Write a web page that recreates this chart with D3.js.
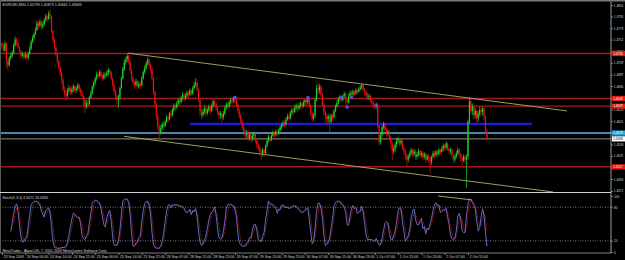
<!DOCTYPE html>
<html>
<head>
<meta charset="utf-8">
<script src="https://cdn.jsdelivr.net/npm/d3@7"></script>
<style>
body { margin: 0; background: #000; }
svg { display: block; }
text { font-family: "Liberation Sans", Arial, sans-serif; font-size: 3.6px; fill: #d8d8d8; }
text.price { font-size: 3.1px; }
</style>
</head>
<body>
<svg></svg>
<script>
// EURUSD M30 bars, 23 Sep 2009 22:00 .. 2 Oct 2009 (open = previous close)
var firstOpen = 1.4745;
var closes = [
  1.4740, 1.4732, 1.4745, 1.4712, 1.4705, 1.4718, 1.4722, 1.4728, 1.4742, 1.4752, 1.4746, 1.4738, 1.4730, 1.4722, 1.4726, 1.4720,
  1.4724, 1.4718, 1.4726, 1.4735, 1.4748, 1.4755, 1.4762, 1.4770, 1.4782, 1.4778, 1.4785, 1.4776, 1.4780, 1.4788, 1.4795, 1.4790,
  1.4800, 1.4795, 1.4768, 1.4752, 1.4738, 1.4725, 1.4712, 1.4700, 1.4690, 1.4676, 1.4660, 1.4652, 1.4648, 1.4658, 1.4662, 1.4655,
  1.4660, 1.4666, 1.4658, 1.4662, 1.4668, 1.4660, 1.4655, 1.4648, 1.4640, 1.4628, 1.4635, 1.4632, 1.4645, 1.4652, 1.4665, 1.4672,
  1.4680, 1.4688, 1.4685, 1.4692, 1.4684, 1.4680, 1.4688, 1.4685, 1.4690, 1.4696, 1.4692, 1.4680, 1.4668, 1.4655, 1.4648, 1.4640,
  1.4645, 1.4662, 1.4680, 1.4698, 1.4710, 1.4716, 1.4722, 1.4712, 1.4695, 1.4680, 1.4672, 1.4668, 1.4675, 1.4665, 1.4670, 1.4668,
  1.4680, 1.4692, 1.4700, 1.4708, 1.4715, 1.4705, 1.4698, 1.4680, 1.4655, 1.4632, 1.4610, 1.4592, 1.4580, 1.4588, 1.4596, 1.4592,
  1.4600, 1.4608, 1.4604, 1.4615, 1.4612, 1.4622, 1.4630, 1.4626, 1.4634, 1.4640, 1.4636, 1.4645, 1.4650, 1.4644, 1.4648, 1.4654,
  1.4650, 1.4658, 1.4652, 1.4662, 1.4668, 1.4672, 1.4660, 1.4640, 1.4620, 1.4612, 1.4618, 1.4625, 1.4616, 1.4622, 1.4628, 1.4620,
  1.4630, 1.4638, 1.4634, 1.4625, 1.4618, 1.4612, 1.4615, 1.4608, 1.4615, 1.4625, 1.4632, 1.4628, 1.4636, 1.4640, 1.4638, 1.4644,
  1.4640, 1.4632, 1.4620, 1.4612, 1.4600, 1.4590, 1.4582, 1.4575, 1.4580, 1.4570, 1.4576, 1.4568, 1.4574, 1.4578, 1.4565, 1.4558,
  1.4552, 1.4545, 1.4540, 1.4548, 1.4542, 1.4555, 1.4565, 1.4572, 1.4566, 1.4574, 1.4580, 1.4575, 1.4582, 1.4578, 1.4585, 1.4590,
  1.4594, 1.4598, 1.4595, 1.4604, 1.4610, 1.4606, 1.4616, 1.4622, 1.4618, 1.4626, 1.4630, 1.4624, 1.4630, 1.4634, 1.4628, 1.4636,
  1.4640, 1.4636, 1.4642, 1.4630, 1.4615, 1.4606, 1.4612, 1.4640, 1.4662, 1.4658, 1.4665, 1.4650, 1.4632, 1.4618, 1.4610, 1.4605,
  1.4610, 1.4600, 1.4612, 1.4608, 1.4620, 1.4628, 1.4635, 1.4642, 1.4646, 1.4640, 1.4648, 1.4652, 1.4640, 1.4636, 1.4648, 1.4654,
  1.4650, 1.4656, 1.4652, 1.4658, 1.4655, 1.4660, 1.4664, 1.4668, 1.4660, 1.4655, 1.4650, 1.4646, 1.4648, 1.4640, 1.4636, 1.4630,
  1.4628, 1.4632, 1.4592, 1.4562, 1.4575, 1.4590, 1.4596, 1.4585, 1.4578, 1.4582, 1.4570, 1.4560, 1.4545, 1.4550, 1.4558, 1.4565,
  1.4568, 1.4560, 1.4565, 1.4552, 1.4545, 1.4538, 1.4530, 1.4535, 1.4542, 1.4548, 1.4540, 1.4545, 1.4535, 1.4540, 1.4546, 1.4538,
  1.4542, 1.4535, 1.4540, 1.4530, 1.4536, 1.4532, 1.4525, 1.4535, 1.4542, 1.4538, 1.4545, 1.4540, 1.4548, 1.4544, 1.4550, 1.4556,
  1.4552, 1.4560, 1.4550, 1.4545, 1.4548, 1.4538, 1.4530, 1.4536, 1.4542, 1.4548, 1.4540, 1.4534, 1.4528, 1.4535, 1.4530, 1.4536,
  1.4600, 1.4638, 1.4620, 1.4628, 1.4612, 1.4620, 1.4606, 1.4615, 1.4622, 1.4618, 1.4625, 1.4610, 1.4580, 1.45683
];
var highs = [
  1.4748, 1.4744, 1.4750, 1.4746, 1.4715, 1.4722, 1.4728, 1.4732, 1.4745, 1.4758, 1.4755, 1.4748, 1.4740, 1.4732, 1.4730, 1.4728,
  1.4730, 1.4727, 1.4730, 1.4740, 1.4752, 1.4760, 1.4766, 1.4775, 1.4788, 1.4786, 1.4790, 1.4788, 1.4785, 1.4792, 1.4800, 1.4798,
  1.4805, 1.4808, 1.4797, 1.4770, 1.4755, 1.4740, 1.4728, 1.4715, 1.4703, 1.4692, 1.4680, 1.4665, 1.4658, 1.4663, 1.4668, 1.4665,
  1.4665, 1.4670, 1.4668, 1.4666, 1.4672, 1.4670, 1.4662, 1.4658, 1.4650, 1.4642, 1.4640, 1.4640, 1.4648, 1.4658, 1.4668, 1.4676,
  1.4684, 1.4693, 1.4692, 1.4696, 1.4695, 1.4688, 1.4692, 1.4693, 1.4695, 1.4700, 1.4698, 1.4694, 1.4682, 1.4670, 1.4660, 1.4650,
  1.4650, 1.4665, 1.4684, 1.4702, 1.4715, 1.4720, 1.4727, 1.4724, 1.4714, 1.4698, 1.4684, 1.4676, 1.4680, 1.4678, 1.4675, 1.4674,
  1.4685, 1.4696, 1.4705, 1.4712, 1.4720, 1.4716, 1.4708, 1.4700, 1.4682, 1.4658, 1.4636, 1.4615, 1.4596, 1.4594, 1.4600, 1.4600,
  1.4604, 1.4612, 1.4612, 1.4618, 1.4620, 1.4625, 1.4634, 1.4634, 1.4638, 1.4644, 1.4645, 1.4648, 1.4655, 1.4654, 1.4652, 1.4658,
  1.4656, 1.4662, 1.4660, 1.4666, 1.4674, 1.4681, 1.4676, 1.4662, 1.4642, 1.4624, 1.4624, 1.4630, 1.4628, 1.4626, 1.4632, 1.4630,
  1.4634, 1.4642, 1.4640, 1.4636, 1.4628, 1.4620, 1.4620, 1.4616, 1.4620, 1.4630, 1.4636, 1.4635, 1.4640, 1.4644, 1.4645, 1.4647,
  1.4647, 1.4642, 1.4634, 1.4624, 1.4615, 1.4604, 1.4594, 1.4586, 1.4585, 1.4584, 1.4580, 1.4578, 1.4578, 1.4582, 1.4580, 1.4568,
  1.4562, 1.4556, 1.4550, 1.4552, 1.4550, 1.4558, 1.4568, 1.4576, 1.4574, 1.4578, 1.4584, 1.4582, 1.4586, 1.4584, 1.4588, 1.4594,
  1.4598, 1.4603, 1.4602, 1.4608, 1.4615, 1.4614, 1.4620, 1.4626, 1.4625, 1.4630, 1.4634, 1.4632, 1.4635, 1.4638, 1.4636, 1.4640,
  1.4642, 1.4644, 1.4646, 1.4644, 1.4632, 1.4618, 1.4616, 1.4644, 1.4668, 1.4672, 1.4670, 1.4668, 1.4654, 1.4636, 1.4622, 1.4614,
  1.4615, 1.4614, 1.4615, 1.4616, 1.4624, 1.4632, 1.4640, 1.4646, 1.4650, 1.4648, 1.4650, 1.4656, 1.4654, 1.4642, 1.4652, 1.4658,
  1.4658, 1.4660, 1.4658, 1.4662, 1.4662, 1.4664, 1.4668, 1.4671, 1.4670, 1.4662, 1.4658, 1.4654, 1.4652, 1.4650, 1.4644, 1.4638,
  1.4634, 1.4636, 1.4634, 1.4594, 1.4580, 1.4594, 1.4600, 1.4598, 1.4590, 1.4586, 1.4584, 1.4574, 1.4564, 1.4556, 1.4562, 1.4570,
  1.4572, 1.4570, 1.4568, 1.4566, 1.4556, 1.4548, 1.4540, 1.4540, 1.4546, 1.4552, 1.4550, 1.4550, 1.4548, 1.4544, 1.4550, 1.4548,
  1.4546, 1.4545, 1.4544, 1.4542, 1.4540, 1.4540, 1.4536, 1.4538, 1.4546, 1.4546, 1.4548, 1.4548, 1.4552, 1.4550, 1.4554, 1.4560,
  1.4558, 1.4564, 1.4562, 1.4552, 1.4552, 1.4550, 1.4540, 1.4540, 1.4546, 1.4552, 1.4550, 1.4542, 1.4536, 1.4540, 1.4538, 1.4540,
  1.4604, 1.4646, 1.4642, 1.4634, 1.4630, 1.4626, 1.4622, 1.4620, 1.4628, 1.4626, 1.4628, 1.4626, 1.4612, 1.45873
];
var lows = [
  1.4733, 1.4728, 1.4730, 1.4700, 1.4695, 1.4702, 1.4714, 1.4718, 1.4725, 1.4738, 1.4740, 1.4734, 1.4726, 1.4716, 1.4719, 1.4715,
  1.4716, 1.4712, 1.4715, 1.4724, 1.4733, 1.4745, 1.4752, 1.4760, 1.4768, 1.4772, 1.4775, 1.4770, 1.4772, 1.4778, 1.4785, 1.4784,
  1.4788, 1.4790, 1.4765, 1.4746, 1.4732, 1.4720, 1.4706, 1.4695, 1.4684, 1.4670, 1.4655, 1.4645, 1.4640, 1.4645, 1.4654, 1.4650,
  1.4650, 1.4655, 1.4652, 1.4654, 1.4658, 1.4655, 1.4648, 1.4642, 1.4630, 1.4616, 1.4624, 1.4625, 1.4630, 1.4642, 1.4650, 1.4660,
  1.4668, 1.4676, 1.4680, 1.4683, 1.4680, 1.4675, 1.4678, 1.4680, 1.4683, 1.4686, 1.4688, 1.4676, 1.4664, 1.4650, 1.4640, 1.4632,
  1.4625, 1.4640, 1.4660, 1.4678, 1.4694, 1.4705, 1.4710, 1.4706, 1.4690, 1.4675, 1.4666, 1.4660, 1.4664, 1.4660, 1.4662, 1.4660,
  1.4665, 1.4678, 1.4688, 1.4696, 1.4704, 1.4700, 1.4690, 1.4675, 1.4650, 1.4625, 1.4604, 1.4585, 1.4570, 1.4576, 1.4585, 1.4585,
  1.4590, 1.4598, 1.4598, 1.4602, 1.4606, 1.4610, 1.4618, 1.4620, 1.4624, 1.4630, 1.4630, 1.4634, 1.4640, 1.4638, 1.4640, 1.4644,
  1.4644, 1.4648, 1.4648, 1.4650, 1.4660, 1.4664, 1.4655, 1.4636, 1.4610, 1.4604, 1.4608, 1.4614, 1.4610, 1.4612, 1.4618, 1.4614,
  1.4618, 1.4626, 1.4628, 1.4620, 1.4612, 1.4605, 1.4606, 1.4598, 1.4604, 1.4612, 1.4622, 1.4622, 1.4625, 1.4632, 1.4632, 1.4635,
  1.4634, 1.4628, 1.4615, 1.4606, 1.4595, 1.4585, 1.4575, 1.4568, 1.4570, 1.4564, 1.4566, 1.4562, 1.4564, 1.4568, 1.4560, 1.4550,
  1.4545, 1.4538, 1.4529, 1.4536, 1.4535, 1.4540, 1.4552, 1.4562, 1.4562, 1.4564, 1.4572, 1.4570, 1.4574, 1.4572, 1.4576, 1.4582,
  1.4585, 1.4590, 1.4590, 1.4592, 1.4602, 1.4600, 1.4604, 1.4612, 1.4612, 1.4616, 1.4622, 1.4618, 1.4622, 1.4626, 1.4622, 1.4626,
  1.4630, 1.4630, 1.4632, 1.4626, 1.4610, 1.4600, 1.4602, 1.4608, 1.4638, 1.4650, 1.4652, 1.4646, 1.4628, 1.4612, 1.4600, 1.4594,
  1.4598, 1.4580, 1.4596, 1.4602, 1.4606, 1.4618, 1.4626, 1.4632, 1.4638, 1.4636, 1.4638, 1.4644, 1.4630, 1.4627, 1.4634, 1.4644,
  1.4645, 1.4646, 1.4647, 1.4650, 1.4650, 1.4654, 1.4658, 1.4660, 1.4656, 1.4650, 1.4644, 1.4640, 1.4640, 1.4635, 1.4630, 1.4625,
  1.4622, 1.4624, 1.4588, 1.4556, 1.4558, 1.4572, 1.4586, 1.4580, 1.4572, 1.4574, 1.4565, 1.4550, 1.4529, 1.4540, 1.4545, 1.4552,
  1.4560, 1.4555, 1.4556, 1.4548, 1.4538, 1.4530, 1.4516, 1.4525, 1.4532, 1.4538, 1.4534, 1.4536, 1.4530, 1.4530, 1.4536, 1.4532,
  1.4534, 1.4530, 1.4530, 1.4524, 1.4528, 1.4522, 1.4505, 1.4520, 1.4532, 1.4532, 1.4535, 1.4535, 1.4538, 1.4538, 1.4542, 1.4546,
  1.4545, 1.4548, 1.4546, 1.4540, 1.4540, 1.4532, 1.4524, 1.4526, 1.4532, 1.4538, 1.4534, 1.4526, 1.4520, 1.4525, 1.4522, 1.4477,
  1.4530, 1.4596, 1.4615, 1.4612, 1.4604, 1.4606, 1.4598, 1.4600, 1.4610, 1.4610, 1.4612, 1.4602, 1.4578, 1.45661
];

var timeLabels = ["23 Sep 2009", "24 Sep 06:00", "24 Sep 14:00", "24 Sep 22:00", "25 Sep 06:00", "25 Sep 14:00",
  "25 Sep 22:00", "28 Sep 07:00", "28 Sep 15:00", "28 Sep 23:00", "29 Sep 07:00", "29 Sep 15:00", "29 Sep 23:00",
  "30 Sep 07:00", "30 Sep 15:00", "30 Sep 23:00", "1 Oct 07:00", "1 Oct 15:00", "1 Oct 23:00", "2 Oct 07:00", "2 Oct 15:00"];
var priceTicks = [1.4816, 1.4795, 1.4773, 1.4752, 1.4730, 1.4709, 1.4687, 1.4666, 1.4644,
  1.4623, 1.4601, 1.4580, 1.4558, 1.4537, 1.4515, 1.4494, 1.4472];
var stochTicks = [100, 80, 20, 0];
var stochLevels = [80, 20];

var redLevels = [1.47264, 1.46431, 1.46289, 1.45166];
var blueLevel = 1.45962, blueFrom = 129, blueTo = 364;
var supportLevel = 1.45790;
var bidPrice = 1.45683;
var upperTrend = [[86.5, 1.4727], [388, 1.4620]];
var lowerTrend = [[83.8, 1.4573], [378.4, 1.4470]];
var stochTrend = [[299.5, 100], [322.8, 93]];
var markerBars = [160, 210, 233, 237, 240, 257];
var markerPrices = [1.4645, 1.4645, 1.4645, 1.4627, 1.4645, 1.4630];

var titleText = "EURUSD,M30  1.45799 1.45873 1.45661 1.45683";
var stochText = "Stoch(5,3,3) 4.5071 26.0330";
var footerText = "MetaTrader - Alpari UK, \u00a9 2001-2009 MetaQuotes Software Corp.";

var screen = {width: 625, height: 260};
var axisX = 611;

var svg = d3.select("svg").attr("width", screen.width).attr("height", screen.height);
svg.append("rect").attr("width", screen.width).attr("height", screen.height).attr("fill", "#000");

var xScale = d3.scaleLinear().domain([0, 320]).range([2, 468]);
var yScale = d3.scaleLinear().domain([1.4470, 1.48216]).range([192, 2]);
var sScale = d3.scaleLinear().domain([0, 100]).range([252, 196]);

var defs = svg.append("defs");
defs.append("clipPath").attr("id", "mainClip").append("rect")
    .attr("x", 1).attr("y", 2).attr("width", axisX - 1).attr("height", 190);
defs.append("clipPath").attr("id", "stochClip").append("rect")
    .attr("x", 1).attr("y", 193).attr("width", axisX - 1).attr("height", 60);

var bars = closes.map(function(c, i)
{
    return {i: i, o: i ? closes[i - 1] : firstOpen, h: highs[i], l: lows[i], c: c};
});

var main = svg.append("g").attr("clip-path", "url(#mainClip)");

// horizontal levels
main.selectAll(".red").data(redLevels).enter().append("line")
    .attr("x1", 0).attr("x2", axisX)
    .attr("y1", function(d){return yScale(d);}).attr("y2", function(d){return yScale(d);})
    .attr("stroke", "#a01c1c").attr("stroke-width", 1.4);
main.append("line").attr("x1", 0).attr("x2", axisX)
    .attr("y1", yScale(supportLevel)).attr("y2", yScale(supportLevel))
    .attr("stroke", "#4a86b0").attr("stroke-width", 2);
main.append("line").attr("x1", 0).attr("x2", axisX)
    .attr("y1", yScale(bidPrice)).attr("y2", yScale(bidPrice))
    .attr("stroke", "#b4b4b4").attr("stroke-width", 0.8);
main.append("line").attr("x1", xScale(blueFrom)).attr("x2", xScale(blueTo))
    .attr("y1", yScale(blueLevel)).attr("y2", yScale(blueLevel))
    .attr("stroke", "#1c1cdc").attr("stroke-width", 2.2);

// trend lines
[upperTrend, lowerTrend].forEach(function(t)
{
    main.append("line")
        .attr("x1", xScale(t[0][0])).attr("y1", yScale(t[0][1]))
        .attr("x2", xScale(t[1][0])).attr("y2", yScale(t[1][1]))
        .attr("stroke", "#b5ad72").attr("stroke-width", 0.9);
});

// candles
var candle = main.selectAll(".candle").data(bars).enter().append("g");
var colorOf = function(b){ return b.c >= b.o ? "#22d422" : "#e81212"; };
candle.append("line")
    .attr("x1", function(b){return xScale(b.i);}).attr("x2", function(b){return xScale(b.i);})
    .attr("y1", function(b){return yScale(Math.max(b.h, b.o, b.c));})
    .attr("y2", function(b){return yScale(Math.min(b.l, b.o, b.c));})
    .attr("stroke", colorOf).attr("stroke-width", 0.7);
candle.append("rect")
    .attr("x", function(b){return xScale(b.i) - 0.6;})
    .attr("width", 1.2)
    .attr("y", function(b){return yScale(Math.max(b.o, b.c));})
    .attr("height", function(b){return Math.max(0.7, Math.abs(yScale(b.o) - yScale(b.c)));})
    .attr("fill", colorOf);

// markers
main.selectAll(".mark").data(markerBars).enter().append("circle")
    .attr("cx", function(d){return xScale(d);})
    .attr("cy", function(d, i){return yScale(markerPrices[i]);})
    .attr("r", 1.6).attr("fill", "#5a4cff");

// stochastic 5,3,3
var kPeriod = 5, slowing = 3, dPeriod = 3;
var kLine = bars.map(function(b, i)
{
    if (i < kPeriod + slowing - 2) return null;
    var num = 0, den = 0;
    for (var j = i - slowing + 1; j <= i; j++)
    {
        var win = bars.slice(j - kPeriod + 1, j + 1);
        var hh = d3.max(win, function(d){return d.h;});
        var ll = d3.min(win, function(d){return d.l;});
        num += bars[j].c - ll;
        den += hh - ll;
    }
    return den ? 100 * num / den : 100;
});
var dLine = kLine.map(function(v, i)
{
    if (i < kPeriod + slowing + dPeriod - 3) return null;
    return d3.mean(kLine.slice(i - dPeriod + 1, i + 1));
});

var stoch = svg.append("g").attr("clip-path", "url(#stochClip)");
stochLevels.forEach(function(lv)
{
    stoch.append("line").attr("x1", 0).attr("x2", axisX)
        .attr("y1", sScale(lv)).attr("y2", sScale(lv))
        .attr("stroke", "#c8c8c8").attr("stroke-width", 0.6).attr("stroke-dasharray", "1,1.5");
});
var sLine = d3.line()
    .defined(function(d){return d != null;})
    .x(function(d, i){return xScale(i);})
    .y(function(d){return sScale(d);});
stoch.append("path").datum(dLine).attr("d", sLine)
    .attr("fill", "none").attr("stroke", "#d02a2a").attr("stroke-width", 0.8).attr("stroke-dasharray", "1,1");
stoch.append("path").datum(kLine).attr("d", sLine)
    .attr("fill", "none").attr("stroke", "#8282f0").attr("stroke-width", 0.8);
stoch.append("line")
    .attr("x1", xScale(stochTrend[0][0])).attr("y1", sScale(stochTrend[0][1]))
    .attr("x2", xScale(stochTrend[1][0])).attr("y2", sScale(stochTrend[1][1]))
    .attr("stroke", "#b5ad72").attr("stroke-width", 0.9);

// frame
svg.append("rect").attr("x", 0).attr("y", 0).attr("width", screen.width).attr("height", 1.5).attr("fill", "#7a7a7a");
svg.append("rect").attr("x", 0).attr("y", 0).attr("width", 1).attr("height", 253).attr("fill", "#5a5a5a");
svg.append("line").attr("x1", 0).attr("x2", axisX).attr("y1", 192.5).attr("y2", 192.5)
    .attr("stroke", "#d0d0d0").attr("stroke-width", 1);
svg.append("line").attr("x1", 0).attr("x2", axisX).attr("y1", 253).attr("y2", 253)
    .attr("stroke", "#a0a0a0").attr("stroke-width", 0.8);
svg.append("line").attr("x1", axisX).attr("x2", axisX).attr("y1", 1.5).attr("y2", 253)
    .attr("stroke", "#c0c0c0").attr("stroke-width", 0.8);

// axes
var styleAxis = function(g)
{
    g.select(".domain").remove();
    g.selectAll("line").attr("stroke", "#c0c0c0").attr("stroke-width", 0.6);
    g.attr("font-size", null).attr("font-family", null);
};
svg.append("g").attr("transform", "translate(" + axisX + ",0)")
    .call(d3.axisRight(yScale).tickValues(priceTicks).tickSize(2).tickPadding(0.8).tickFormat(d3.format(".4f")))
    .call(styleAxis)
    .selectAll("text").attr("class", "price");
svg.append("g").attr("transform", "translate(" + axisX + ",0)")
    .call(d3.axisRight(sScale).tickValues(stochTicks).tickSize(2).tickPadding(1))
    .call(styleAxis)
    .selectAll("text").attr("class", "price");
svg.append("g").attr("transform", "translate(0,253)")
    .call(d3.axisBottom(xScale).tickValues(d3.range(0, 321, 16)).tickSize(2).tickPadding(0.5)
        .tickFormat(function(d, i){return timeLabels[i];}))
    .call(styleAxis)
    .selectAll("text").attr("text-anchor", "start").attr("x", 1);

// price tags on the axis
var tags = redLevels.map(function(p){return {p: p, bg: "#e01818", fg: "#ffffff"};})
    .concat([{p: supportLevel, bg: "#27a6e0", fg: "#ffffff"}, {p: bidPrice, bg: "#ffffff", fg: "#000000"}]);
var tag = svg.selectAll(".tag").data(tags).enter().append("g")
    .attr("transform", function(d){return "translate(" + (axisX + 1) + "," + yScale(d.p) + ")";});
tag.append("rect").attr("x", 0).attr("y", -2.6).attr("width", 14).attr("height", 5.2)
    .attr("fill", function(d){return d.bg;});
tag.append("text").attr("class", "price").attr("x", 1.2).attr("dy", "0.35em")
    .style("fill", function(d){return d.fg;})
    .text(function(d){return d3.format(".4f")(d.p);});

// texts
svg.append("text").attr("x", 2.5).attr("y", 6).text(titleText);
svg.append("text").attr("x", 2.5).attr("y", 199).text(stochText);
svg.append("text").attr("x", 2.5).attr("y", 251.5).text(footerText);
</script>
</body>
</html>
